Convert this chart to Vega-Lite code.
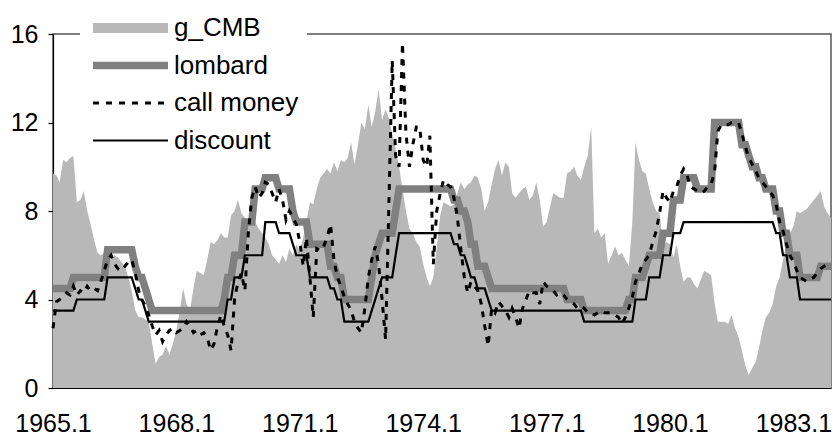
{
"$schema": "https://vega.github.io/schema/vega-lite/v6.json",
"width": 778, "height": 354,
"autosize": {"type": "none"},
"padding": {"left": 53, "top": 34, "right": 2, "bottom": 47},
"background": "white",
"config": {"view": {"stroke": "#555555", "strokeWidth": 1.5}, "font": "Liberation Sans"},
"data": {"values": [
{"t":"1965-01","g":9.7,"l":4.5,"c":2.7,"d":3.5},
{"t":"1965-02","g":9.6,"l":4.5,"c":3.9,"d":3.5},
{"t":"1965-03","g":9.3,"l":4.5,"c":4.0,"d":3.5},
{"t":"1965-04","g":10.3,"l":4.5,"c":4.1,"d":3.5},
{"t":"1965-05","g":10.2,"l":4.5,"c":4.3,"d":3.5},
{"t":"1965-06","g":10.4,"l":4.5,"c":4.2,"d":3.5},
{"t":"1965-07","g":10.5,"l":5.0,"c":4.6,"d":3.5},
{"t":"1965-08","g":8.4,"l":5.0,"c":4.2,"d":4.0},
{"t":"1965-09","g":8.5,"l":5.0,"c":4.4,"d":4.0},
{"t":"1965-10","g":8.9,"l":5.0,"c":4.3,"d":4.0},
{"t":"1965-11","g":8.0,"l":5.0,"c":4.6,"d":4.0},
{"t":"1965-12","g":7.4,"l":5.0,"c":4.4,"d":4.0},
{"t":"1966-01","g":6.7,"l":5.0,"c":4.5,"d":4.0},
{"t":"1966-02","g":6.1,"l":5.0,"c":4.4,"d":4.0},
{"t":"1966-03","g":6.0,"l":5.0,"c":4.8,"d":4.0},
{"t":"1966-04","g":6.1,"l":5.0,"c":5.3,"d":4.0},
{"t":"1966-05","g":5.9,"l":6.25,"c":5.8,"d":5.0},
{"t":"1966-06","g":5.8,"l":6.25,"c":6.0,"d":5.0},
{"t":"1966-07","g":6.0,"l":6.25,"c":5.6,"d":5.0},
{"t":"1966-08","g":5.9,"l":6.25,"c":5.4,"d":5.0},
{"t":"1966-09","g":5.7,"l":6.25,"c":5.6,"d":5.0},
{"t":"1966-10","g":5.5,"l":6.25,"c":5.5,"d":5.0},
{"t":"1966-11","g":5.0,"l":6.25,"c":5.7,"d":5.0},
{"t":"1966-12","g":4.4,"l":6.25,"c":5.8,"d":5.0},
{"t":"1967-01","g":3.5,"l":5.5,"c":5.2,"d":4.5},
{"t":"1967-02","g":3.2,"l":5.0,"c":4.4,"d":4.0},
{"t":"1967-03","g":3.2,"l":5.0,"c":4.0,"d":4.0},
{"t":"1967-04","g":3.1,"l":4.5,"c":3.7,"d":3.5},
{"t":"1967-05","g":3.0,"l":4.0,"c":3.3,"d":3.0},
{"t":"1967-06","g":2.0,"l":3.5,"c":2.8,"d":3.0},
{"t":"1967-07","g":1.1,"l":3.5,"c":2.4,"d":3.0},
{"t":"1967-08","g":1.4,"l":3.5,"c":2.6,"d":3.0},
{"t":"1967-09","g":1.5,"l":3.5,"c":2.1,"d":3.0},
{"t":"1967-10","g":1.9,"l":3.5,"c":2.4,"d":3.0},
{"t":"1967-11","g":1.5,"l":3.5,"c":2.6,"d":3.0},
{"t":"1967-12","g":2.0,"l":3.5,"c":2.7,"d":3.0},
{"t":"1968-01","g":2.6,"l":3.5,"c":2.5,"d":3.0},
{"t":"1968-02","g":3.5,"l":3.5,"c":2.6,"d":3.0},
{"t":"1968-03","g":4.5,"l":3.5,"c":2.7,"d":3.0},
{"t":"1968-04","g":3.8,"l":3.5,"c":3.0,"d":3.0},
{"t":"1968-05","g":3.5,"l":3.5,"c":2.8,"d":3.0},
{"t":"1968-06","g":4.5,"l":3.5,"c":2.5,"d":3.0},
{"t":"1968-07","g":5.3,"l":3.5,"c":2.6,"d":3.0},
{"t":"1968-08","g":5.2,"l":3.5,"c":2.4,"d":3.0},
{"t":"1968-09","g":5.1,"l":3.5,"c":2.5,"d":3.0},
{"t":"1968-10","g":5.8,"l":3.5,"c":2.3,"d":3.0},
{"t":"1968-11","g":6.6,"l":3.5,"c":1.7,"d":3.0},
{"t":"1968-12","g":6.5,"l":3.5,"c":2.0,"d":3.0},
{"t":"1969-01","g":6.7,"l":3.5,"c":2.8,"d":3.0},
{"t":"1969-02","g":7.0,"l":3.5,"c":3.3,"d":3.0},
{"t":"1969-03","g":6.8,"l":4.0,"c":2.8,"d":3.0},
{"t":"1969-04","g":6.8,"l":5.0,"c":2.4,"d":4.0},
{"t":"1969-05","g":7.8,"l":5.0,"c":1.7,"d":4.0},
{"t":"1969-06","g":8.0,"l":6.0,"c":4.0,"d":5.0},
{"t":"1969-07","g":8.5,"l":6.0,"c":4.8,"d":5.0},
{"t":"1969-08","g":7.9,"l":6.0,"c":5.2,"d":5.0},
{"t":"1969-09","g":7.7,"l":7.5,"c":4.4,"d":6.0},
{"t":"1969-10","g":7.5,"l":7.5,"c":7.0,"d":6.0},
{"t":"1969-11","g":7.8,"l":7.5,"c":8.6,"d":6.0},
{"t":"1969-12","g":7.5,"l":9.0,"c":9.1,"d":6.0},
{"t":"1970-01","g":7.2,"l":9.0,"c":8.6,"d":6.0},
{"t":"1970-02","g":7.0,"l":9.0,"c":8.8,"d":6.0},
{"t":"1970-03","g":6.8,"l":9.5,"c":9.3,"d":7.5},
{"t":"1970-04","g":6.5,"l":9.5,"c":9.2,"d":7.5},
{"t":"1970-05","g":6.0,"l":9.5,"c":8.8,"d":7.5},
{"t":"1970-06","g":5.8,"l":9.5,"c":8.4,"d":7.5},
{"t":"1970-07","g":5.6,"l":9.0,"c":9.0,"d":7.0},
{"t":"1970-08","g":6.0,"l":9.0,"c":8.5,"d":7.0},
{"t":"1970-09","g":5.7,"l":9.0,"c":7.6,"d":7.0},
{"t":"1970-10","g":6.3,"l":9.0,"c":8.0,"d":7.0},
{"t":"1970-11","g":6.0,"l":8.0,"c":7.7,"d":6.5},
{"t":"1970-12","g":6.5,"l":7.5,"c":7.4,"d":6.0},
{"t":"1971-01","g":6.2,"l":7.5,"c":6.6,"d":6.0},
{"t":"1971-02","g":6.8,"l":7.5,"c":5.5,"d":6.0},
{"t":"1971-03","g":7.5,"l":7.5,"c":6.8,"d":6.0},
{"t":"1971-04","g":8.4,"l":6.5,"c":5.0,"d":5.0},
{"t":"1971-05","g":8.3,"l":6.5,"c":3.2,"d":5.0},
{"t":"1971-06","g":9.0,"l":6.5,"c":6.3,"d":5.0},
{"t":"1971-07","g":9.5,"l":6.5,"c":6.2,"d":5.0},
{"t":"1971-08","g":9.7,"l":6.5,"c":6.4,"d":5.0},
{"t":"1971-09","g":9.9,"l":6.5,"c":6.8,"d":5.0},
{"t":"1971-10","g":9.7,"l":5.5,"c":7.4,"d":4.5},
{"t":"1971-11","g":10.2,"l":5.5,"c":5.8,"d":4.5},
{"t":"1971-12","g":9.8,"l":5.0,"c":5.0,"d":4.0},
{"t":"1972-01","g":10.3,"l":5.0,"c":4.6,"d":4.0},
{"t":"1972-02","g":10.2,"l":4.0,"c":4.1,"d":3.0},
{"t":"1972-03","g":10.4,"l":4.0,"c":3.8,"d":3.0},
{"t":"1972-04","g":11.1,"l":4.0,"c":3.5,"d":3.0},
{"t":"1972-05","g":10.1,"l":4.0,"c":3.0,"d":3.0},
{"t":"1972-06","g":11.0,"l":4.0,"c":2.7,"d":3.0},
{"t":"1972-07","g":12.0,"l":4.0,"c":2.5,"d":3.0},
{"t":"1972-08","g":11.7,"l":4.0,"c":3.6,"d":3.0},
{"t":"1972-09","g":12.8,"l":4.0,"c":5.0,"d":3.0},
{"t":"1972-10","g":11.8,"l":5.0,"c":5.8,"d":3.5},
{"t":"1972-11","g":12.5,"l":6.0,"c":6.4,"d":4.0},
{"t":"1972-12","g":13.5,"l":6.5,"c":5.6,"d":4.5},
{"t":"1973-01","g":12.1,"l":7.0,"c":4.0,"d":5.0},
{"t":"1973-02","g":12.6,"l":7.0,"c":2.2,"d":5.0},
{"t":"1973-03","g":12.2,"l":7.0,"c":8.0,"d":5.0},
{"t":"1973-04","g":11.5,"l":7.0,"c":14.8,"d":5.0},
{"t":"1973-05","g":10.8,"l":8.0,"c":10.5,"d":6.0},
{"t":"1973-06","g":10.0,"l":9.0,"c":10.0,"d":7.0},
{"t":"1973-07","g":9.0,"l":9.0,"c":15.6,"d":7.0},
{"t":"1973-08","g":8.0,"l":9.0,"c":11.5,"d":7.0},
{"t":"1973-09","g":7.2,"l":9.0,"c":10.0,"d":7.0},
{"t":"1973-10","g":7.0,"l":9.0,"c":11.0,"d":7.0},
{"t":"1973-11","g":6.6,"l":9.0,"c":11.8,"d":7.0},
{"t":"1973-12","g":6.4,"l":9.0,"c":11.8,"d":7.0},
{"t":"1974-01","g":5.6,"l":9.0,"c":10.3,"d":7.0},
{"t":"1974-02","g":5.0,"l":9.0,"c":10.0,"d":7.0},
{"t":"1974-03","g":4.6,"l":9.0,"c":11.4,"d":7.0},
{"t":"1974-04","g":5.0,"l":9.0,"c":5.6,"d":7.0},
{"t":"1974-05","g":6.3,"l":9.0,"c":8.0,"d":7.0},
{"t":"1974-06","g":7.8,"l":9.0,"c":8.8,"d":7.0},
{"t":"1974-07","g":8.4,"l":9.0,"c":9.4,"d":7.0},
{"t":"1974-08","g":8.3,"l":9.0,"c":9.2,"d":7.0},
{"t":"1974-09","g":8.2,"l":9.0,"c":9.1,"d":7.0},
{"t":"1974-10","g":8.3,"l":8.5,"c":8.6,"d":6.5},
{"t":"1974-11","g":8.8,"l":8.5,"c":7.7,"d":6.5},
{"t":"1974-12","g":9.3,"l":8.0,"c":6.3,"d":6.0},
{"t":"1975-01","g":9.0,"l":8.0,"c":5.0,"d":6.0},
{"t":"1975-02","g":9.2,"l":7.5,"c":4.3,"d":5.5},
{"t":"1975-03","g":9.3,"l":6.5,"c":4.8,"d":5.0},
{"t":"1975-04","g":9.6,"l":6.5,"c":4.6,"d":5.0},
{"t":"1975-05","g":9.5,"l":5.5,"c":4.4,"d":4.5},
{"t":"1975-06","g":9.0,"l":5.5,"c":3.8,"d":4.5},
{"t":"1975-07","g":8.0,"l":5.5,"c":2.8,"d":4.5},
{"t":"1975-08","g":8.4,"l":5.0,"c":1.9,"d":4.0},
{"t":"1975-09","g":9.2,"l":4.5,"c":3.6,"d":3.5},
{"t":"1975-10","g":9.9,"l":4.5,"c":3.4,"d":3.5},
{"t":"1975-11","g":10.3,"l":4.5,"c":3.9,"d":3.5},
{"t":"1975-12","g":9.6,"l":4.5,"c":3.7,"d":3.5},
{"t":"1976-01","g":10.2,"l":4.5,"c":3.5,"d":3.5},
{"t":"1976-02","g":10.0,"l":4.5,"c":3.2,"d":3.5},
{"t":"1976-03","g":8.8,"l":4.5,"c":3.6,"d":3.5},
{"t":"1976-04","g":8.6,"l":4.5,"c":3.2,"d":3.5},
{"t":"1976-05","g":8.8,"l":4.5,"c":2.7,"d":3.5},
{"t":"1976-06","g":9.0,"l":4.5,"c":3.6,"d":3.5},
{"t":"1976-07","g":9.1,"l":4.5,"c":4.0,"d":3.5},
{"t":"1976-08","g":8.5,"l":4.5,"c":4.4,"d":3.5},
{"t":"1976-09","g":8.7,"l":4.5,"c":4.3,"d":3.5},
{"t":"1976-10","g":9.3,"l":4.5,"c":4.3,"d":3.5},
{"t":"1976-11","g":8.5,"l":4.5,"c":3.8,"d":3.5},
{"t":"1976-12","g":7.3,"l":4.5,"c":4.8,"d":3.5},
{"t":"1977-01","g":7.5,"l":4.5,"c":4.6,"d":3.5},
{"t":"1977-02","g":8.2,"l":4.5,"c":4.5,"d":3.5},
{"t":"1977-03","g":8.8,"l":4.5,"c":4.4,"d":3.5},
{"t":"1977-04","g":8.7,"l":4.5,"c":4.2,"d":3.5},
{"t":"1977-05","g":8.6,"l":4.5,"c":4.3,"d":3.5},
{"t":"1977-06","g":8.6,"l":4.5,"c":4.2,"d":3.5},
{"t":"1977-07","g":9.7,"l":4.0,"c":4.0,"d":3.5},
{"t":"1977-08","g":9.8,"l":4.0,"c":3.9,"d":3.5},
{"t":"1977-09","g":10.0,"l":4.0,"c":3.8,"d":3.5},
{"t":"1977-10","g":9.6,"l":4.0,"c":3.6,"d":3.5},
{"t":"1977-11","g":9.4,"l":4.0,"c":3.7,"d":3.5},
{"t":"1977-12","g":10.0,"l":3.5,"c":3.6,"d":3.0},
{"t":"1978-01","g":10.5,"l":3.5,"c":3.4,"d":3.0},
{"t":"1978-02","g":11.8,"l":3.5,"c":3.4,"d":3.0},
{"t":"1978-03","g":7.0,"l":3.5,"c":3.3,"d":3.0},
{"t":"1978-04","g":7.2,"l":3.5,"c":3.4,"d":3.0},
{"t":"1978-05","g":6.8,"l":3.5,"c":3.5,"d":3.0},
{"t":"1978-06","g":7.0,"l":3.5,"c":3.4,"d":3.0},
{"t":"1978-07","g":5.6,"l":3.5,"c":3.4,"d":3.0},
{"t":"1978-08","g":6.0,"l":3.5,"c":3.4,"d":3.0},
{"t":"1978-09","g":6.4,"l":3.5,"c":3.3,"d":3.0},
{"t":"1978-10","g":6.0,"l":3.5,"c":3.2,"d":3.0},
{"t":"1978-11","g":6.1,"l":3.5,"c":2.9,"d":3.0},
{"t":"1978-12","g":5.8,"l":3.5,"c":3.2,"d":3.0},
{"t":"1979-01","g":5.5,"l":4.0,"c":3.6,"d":3.0},
{"t":"1979-02","g":7.5,"l":4.0,"c":4.1,"d":3.0},
{"t":"1979-03","g":11.1,"l":5.0,"c":4.8,"d":4.0},
{"t":"1979-04","g":10.3,"l":5.0,"c":5.2,"d":4.0},
{"t":"1979-05","g":9.8,"l":5.0,"c":5.6,"d":4.0},
{"t":"1979-06","g":9.7,"l":5.5,"c":5.8,"d":4.0},
{"t":"1979-07","g":9.0,"l":6.0,"c":6.0,"d":5.0},
{"t":"1979-08","g":8.4,"l":6.0,"c":6.6,"d":5.0},
{"t":"1979-09","g":8.0,"l":6.0,"c":7.1,"d":5.0},
{"t":"1979-10","g":7.9,"l":6.0,"c":7.9,"d":5.0},
{"t":"1979-11","g":6.4,"l":7.0,"c":8.9,"d":6.0},
{"t":"1979-12","g":6.6,"l":7.0,"c":8.6,"d":6.0},
{"t":"1980-01","g":6.5,"l":7.0,"c":8.4,"d":6.0},
{"t":"1980-02","g":5.9,"l":8.5,"c":8.9,"d":7.0},
{"t":"1980-03","g":6.5,"l":8.5,"c":9.1,"d":7.0},
{"t":"1980-04","g":5.5,"l":8.5,"c":9.6,"d":7.0},
{"t":"1980-05","g":4.8,"l":9.5,"c":9.9,"d":7.5},
{"t":"1980-06","g":5.0,"l":9.5,"c":9.6,"d":7.5},
{"t":"1980-07","g":5.0,"l":9.5,"c":9.1,"d":7.5},
{"t":"1980-08","g":4.7,"l":9.5,"c":9.0,"d":7.5},
{"t":"1980-09","g":4.5,"l":9.0,"c":8.9,"d":7.5},
{"t":"1980-10","g":4.9,"l":9.0,"c":8.8,"d":7.5},
{"t":"1980-11","g":5.3,"l":9.0,"c":8.9,"d":7.5},
{"t":"1980-12","g":5.2,"l":9.0,"c":9.1,"d":7.5},
{"t":"1981-01","g":5.1,"l":9.0,"c":9.2,"d":7.5},
{"t":"1981-02","g":3.8,"l":12.0,"c":9.8,"d":7.5},
{"t":"1981-03","g":3.0,"l":12.0,"c":11.6,"d":7.5},
{"t":"1981-04","g":3.0,"l":12.0,"c":11.9,"d":7.5},
{"t":"1981-05","g":3.0,"l":12.0,"c":11.9,"d":7.5},
{"t":"1981-06","g":2.9,"l":12.0,"c":11.9,"d":7.5},
{"t":"1981-07","g":3.3,"l":12.0,"c":12.0,"d":7.5},
{"t":"1981-08","g":2.7,"l":12.0,"c":12.0,"d":7.5},
{"t":"1981-09","g":2.3,"l":12.0,"c":12.0,"d":7.5},
{"t":"1981-10","g":1.7,"l":11.0,"c":11.5,"d":7.5},
{"t":"1981-11","g":1.0,"l":11.0,"c":10.9,"d":7.5},
{"t":"1981-12","g":0.6,"l":10.5,"c":10.4,"d":7.5},
{"t":"1982-01","g":0.9,"l":10.0,"c":10.1,"d":7.5},
{"t":"1982-02","g":1.2,"l":10.0,"c":9.8,"d":7.5},
{"t":"1982-03","g":1.8,"l":9.5,"c":9.5,"d":7.5},
{"t":"1982-04","g":2.6,"l":9.5,"c":9.3,"d":7.5},
{"t":"1982-05","g":3.2,"l":9.0,"c":9.1,"d":7.5},
{"t":"1982-06","g":3.4,"l":9.0,"c":8.9,"d":7.5},
{"t":"1982-07","g":3.8,"l":9.0,"c":8.7,"d":7.5},
{"t":"1982-08","g":4.6,"l":8.0,"c":8.3,"d":7.0},
{"t":"1982-09","g":5.0,"l":8.0,"c":7.5,"d":7.0},
{"t":"1982-10","g":5.8,"l":7.0,"c":7.1,"d":6.0},
{"t":"1982-11","g":6.6,"l":7.0,"c":6.5,"d":6.0},
{"t":"1982-12","g":7.0,"l":6.0,"c":6.0,"d":5.0},
{"t":"1983-01","g":7.3,"l":6.0,"c":5.7,"d":5.0},
{"t":"1983-02","g":8.0,"l":6.0,"c":5.3,"d":5.0},
{"t":"1983-03","g":7.9,"l":5.0,"c":5.0,"d":4.0},
{"t":"1983-04","g":8.0,"l":5.0,"c":4.9,"d":4.0},
{"t":"1983-05","g":8.1,"l":5.0,"c":4.8,"d":4.0},
{"t":"1983-06","g":8.3,"l":5.0,"c":4.9,"d":4.0},
{"t":"1983-07","g":8.5,"l":5.0,"c":5.0,"d":4.0},
{"t":"1983-08","g":8.7,"l":5.0,"c":5.2,"d":4.0},
{"t":"1983-09","g":8.9,"l":5.5,"c":5.4,"d":4.0},
{"t":"1983-10","g":8.2,"l":5.5,"c":5.5,"d":4.0},
{"t":"1983-11","g":7.9,"l":5.5,"c":5.6,"d":4.0},
{"t":"1983-12","g":7.7,"l":5.5,"c":5.5,"d":4.0}
]},
"transform": [{"fold": ["g", "l", "c", "d"], "as": ["key", "value"]}],
"encoding": {
  "x": {"field": "t", "type": "temporal",
    "scale": {"type": "utc", "domain": [{"year": 1965, "month": 1, "date": 1, "utc": true}, {"year": 1983, "month": 12, "date": 1, "utc": true}]},
    "axis": {"title": null, "values": [
      {"year": 1965, "month": 1, "date": 1, "utc": true},
      {"year": 1968, "month": 1, "date": 1, "utc": true},
      {"year": 1971, "month": 1, "date": 1, "utc": true},
      {"year": 1974, "month": 1, "date": 1, "utc": true},
      {"year": 1977, "month": 1, "date": 1, "utc": true},
      {"year": 1980, "month": 1, "date": 1, "utc": true},
      {"year": 1983, "month": 1, "date": 1, "utc": true}],
      "labelExpr": "utcFormat(datum.value, '%Y') + '.1'", "ticks": false, "grid": false,
      "domainColor": "black", "domainWidth": 1.2,
      "labelFont": "Liberation Sans", "labelFontSize": 25, "labelColor": "black",
      "labelPadding": 23, "labelFlush": false, "labelOverlap": false, "labelBound": false}},
  "y": {"field": "value", "type": "quantitative", "title": null,
    "scale": {"domain": [0, 16], "nice": false, "zero": true},
    "axis": {"values": [0, 4, 8, 12, 16], "grid": false, "ticks": true, "tickSize": 5, "tickColor": "black", "tickWidth": 1.2,
      "domainColor": "black", "domainWidth": 1.2, "labelFont": "Liberation Sans", "labelFontSize": 25, "labelColor": "black", "labelPadding": 10}},
  "color": {"field": "key", "type": "nominal",
    "scale": {"domain": ["g", "l", "c", "d"], "range": ["#b8b8b8", "#808080", "#000000", "#000000"]},
    "legend": {"orient": "none", "legendX": 27, "legendY": -27, "title": null, "padding": 8, "fillColor": "white", "strokeColor": null,
      "direction": "vertical", "columns": 1,
      "labelExpr": "datum.label == 'g' ? 'g_CMB' : datum.label == 'l' ? 'lombard' : datum.label == 'c' ? 'call money' : 'discount'",
      "labelFont": "Liberation Sans", "labelFontSize": 26, "labelColor": "black", "labelOffset": 1, "labelLimit": 300,
      "symbolSize": 5625, "clipHeight": 26, "rowPadding": 11.5, "symbolType": "stroke", "symbolOpacity": 1}},
  "strokeDash": {"field": "key", "type": "nominal",
    "scale": {"domain": ["g", "l", "c", "d"], "range": [[1, 0], [1, 0], [6, 7], [1, 0]]},
    "legend": {"orient": "none", "legendX": 27, "legendY": -27, "title": null}},
  "strokeWidth": {"field": "key", "type": "ordinal",
    "scale": {"type": "ordinal", "domain": ["g", "l", "c", "d"], "range": [10, 7.5, 3, 2.2]},
    "legend": {"orient": "none", "legendX": 27, "legendY": -27, "title": null}}
},
"layer": [
  {"transform": [{"filter": "datum.key === 'g'"}],
   "mark": {"type": "area", "interpolate": "linear", "opacity": 1}},
  {"transform": [{"filter": "datum.key === 'l'"}],
   "mark": {"type": "line", "strokeJoin": "miter"}},
  {"transform": [{"filter": "datum.key === 'c'"}],
   "mark": {"type": "line"}},
  {"transform": [{"filter": "datum.key === 'd'"}],
   "mark": {"type": "line", "strokeJoin": "miter"}}
]
}
